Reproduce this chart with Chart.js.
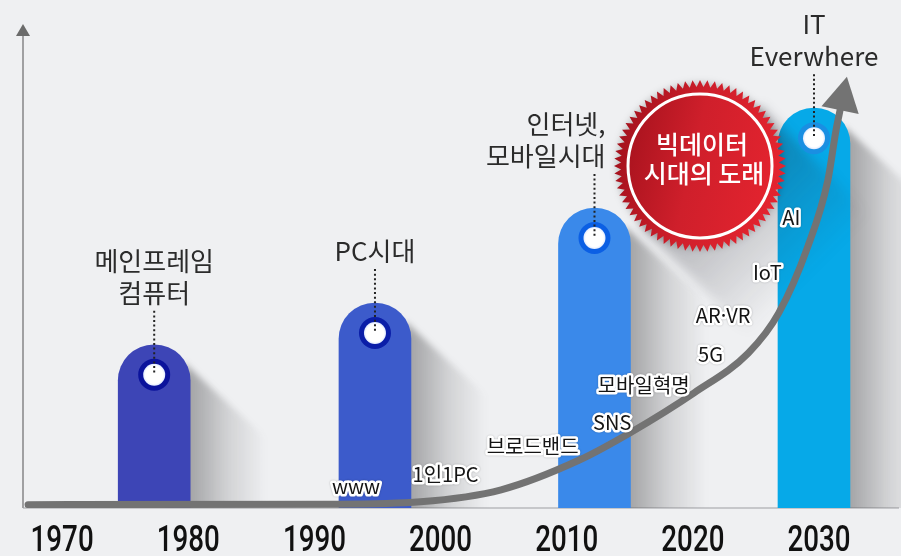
<!DOCTYPE html>
<html lang="ko">
<head>
<meta charset="utf-8">
<title>IT 시대의 변화</title>
<script src="https://cdn.jsdelivr.net/npm/chart.js@4.4.1/dist/chart.umd.min.js"></script>
<style>
  html, body { margin: 0; padding: 0; background: #eff0f2; }
  .chart-wrap { position: relative; width: 901px; height: 556px; }
</style>
</head>
<body>
<div class="chart-wrap"><canvas id="chart"></canvas></div>
<script>
// x axis years
const yearTicks = [1970, 1980, 1990, 2000, 2010, 2020, 2030];

// pillars (one per era)
const eraYears = [1977.3, 1994.8, 2012.2, 2029.6];
const eraValues = [34.0, 42.7, 62.5, 83.3];
const eraLabels = [['메인프레임', '컴퓨터'], ['PC시대'], ['인터넷,', '모바일시대'], ['IT', 'Everwhere']];

// growth curve
const curveYears = [1967.3, 1991.3, 1998.4, 2004.8, 2011.0, 2015.1, 2020.1, 2024.4, 2026.8, 2029.1, 2030.7, 2031.35, 2031.7];
const curveValues = [0.7, 0.8, 1.3, 3.8, 10.0, 15.8, 24.0, 32.3, 40.6, 54.4, 68.3, 78.8, 83.3];

// keywords along the curve
const keywordLabels = ['www', '1인1PC', '브로드밴드', 'SNS', '모바일혁명', '5G', 'AR·VR', 'IoT', 'AI'];
const keywordYears = [1993.3, 2000.4, 2007.3, 2013.6, 2016.1, 2021.4, 2022.4, 2025.9, 2027.8];
const keywordValues = [4.4, 6.9, 12.9, 17.9, 25.6, 31.9, 40.2, 49.0, 60.6];

const badgeLines = ['빅데이터', '시대의 도래'];

// styles
const eraColors = ['#3d45b6', '#3c5bcb', '#3a89ea', '#06a9e8'];
const ringColors = ['#0b139c', '#0a1ea8', '#0b5fe4', '#1a8fe2'];
const eraAlign = ['center', 'center', 'right', 'center'];
const KR = '"Noto Sans CJK KR", "Noto Sans", sans-serif';

const decoPlugin = {
    id: 'deco',
    beforeDatasetsDraw(chart) {
        const { ctx, chartArea: area } = chart;
        ctx.save();

        // axes with arrows
        ctx.lineWidth = 2;
        ctx.strokeStyle = '#c6c7ca';
        ctx.beginPath();
        ctx.moveTo(area.left, area.bottom);
        ctx.lineTo(chart.width - 2, area.bottom);
        ctx.stroke();
        ctx.strokeStyle = '#a0a0a2';
        ctx.beginPath();
        ctx.moveTo(area.left, area.bottom);
        ctx.lineTo(area.left, area.top + 6);
        ctx.stroke();
        ctx.fillStyle = '#6b6b6b';
        ctx.beginPath();
        ctx.moveTo(area.left, area.top - 4);
        ctx.lineTo(area.left - 7, area.top + 8);
        ctx.lineTo(area.left + 7, area.top + 8);
        ctx.closePath();
        ctx.fill();

        // cast shadows right of each pillar
        ctx.beginPath();
        ctx.rect(area.left + 1, 0, chart.width, area.bottom);
        ctx.clip();
        const bars = chart.getDatasetMeta(1).data;
        bars.forEach(bar => {
            const right = bar.x + bar.width / 2;
            const top = bar.y + 18;
            const L = 76;
            const g = ctx.createLinearGradient(right, 0, right + L, 0);
            g.addColorStop(0, 'rgba(70,70,72,0.44)');
            g.addColorStop(0.5, 'rgba(70,70,72,0.17)');
            g.addColorStop(1, 'rgba(70,70,72,0)');
            ctx.filter = 'blur(3px)';
            ctx.fillStyle = g;
            ctx.beginPath();
            ctx.moveTo(right - 6, top);
            ctx.lineTo(right + L, top + L);
            ctx.lineTo(right + L, bar.base + 6);
            ctx.lineTo(right - 6, bar.base + 6);
            ctx.closePath();
            ctx.fill();
        });
        ctx.filter = 'none';
        ctx.restore();
    },
    afterDatasetDraw(chart, args) {
        if (args.index !== 1) return;
        // shadow of the badge
        const { ctx } = chart;
        const cx = 700, cy = 166;
        ctx.save();
        ctx.filter = 'blur(6px)';
        const g = ctx.createLinearGradient(cx, cy, cx + 110, cy + 110);
        g.addColorStop(0, 'rgba(40,40,50,0.35)');
        g.addColorStop(1, 'rgba(40,40,50,0)');
        ctx.fillStyle = g;
        ctx.beginPath();
        ctx.moveTo(cx - 60, cy + 60);
        ctx.lineTo(cx + 60, cy - 60);
        ctx.lineTo(cx + 170, cy + 50);
        ctx.lineTo(cx + 50, cy + 170);
        ctx.closePath();
        ctx.fill();
        ctx.restore();
    },
    afterDatasetsDraw(chart) {
        const { ctx } = chart;
        const xs = chart.scales.x, ys = chart.scales.y;
        ctx.save();

        // arrow head at the end of the curve
        const pts = chart.getDatasetMeta(0).data;
        const p1 = pts[pts.length - 1], p0 = pts[pts.length - 2];
        let dx = p1.x - p0.x, dy = p1.y - p0.y;
        const len = Math.hypot(dx, dy);
        dx /= len; dy /= len;
        const bx = p1.x - dx * 2, by = p1.y - dy * 2;
        ctx.fillStyle = '#737373';
        ctx.beginPath();
        ctx.moveTo(p1.x + dx * 32, p1.y + dy * 32);
        ctx.lineTo(bx - dy * 19, by + dx * 19);
        ctx.lineTo(bx + dy * 19, by - dx * 19);
        ctx.closePath();
        ctx.fill();

        // circles, dotted leaders and era labels
        const bars = chart.getDatasetMeta(1).data;
        bars.forEach((bar, i) => {
            const cxp = bar.x, cyp = bar.y + 30;
            ctx.fillStyle = ringColors[i];
            ctx.beginPath();
            ctx.arc(cxp, cyp, 16, 0, Math.PI * 2);
            ctx.fill();
            const rg = ctx.createRadialGradient(cxp, cyp, 2, cxp, cyp, 11);
            rg.addColorStop(0, '#ffffff');
            rg.addColorStop(0.75, '#ffffff');
            rg.addColorStop(1, '#dfe9ff');
            ctx.fillStyle = rg;
            ctx.beginPath();
            ctx.arc(cxp, cyp, 11, 0, Math.PI * 2);
            ctx.fill();

            const lines = eraLabels[i];
            const lastY = bar.y - 52;
            const startY = lastY + 18;
            ctx.strokeStyle = '#222';
            ctx.lineWidth = 2;
            ctx.setLineDash([2, 2.6]);
            ctx.beginPath();
            ctx.moveTo(cxp, startY);
            ctx.lineTo(cxp, cyp - 1);
            ctx.stroke();
            ctx.setLineDash([]);

            ctx.font = '400 26px ' + KR;
            ctx.fillStyle = '#2b2b2b';
            ctx.textBaseline = 'middle';
            ctx.textAlign = eraAlign[i];
            const tx = eraAlign[i] === 'right' ? cxp + 11 : cxp;
            lines.forEach((t, k) => {
                ctx.fillText(t, tx, lastY - (lines.length - 1 - k) * 32);
            });
        });

        // keyword labels with white halo
        ctx.font = '400 20px ' + KR;
        ctx.textAlign = 'center';
        ctx.textBaseline = 'middle';
        ctx.lineJoin = 'round';
        keywordLabels.forEach((t, i) => {
            const x = xs.getPixelForValue(keywordYears[i]);
            const y = ys.getPixelForValue(keywordValues[i]);
            ctx.shadowColor = 'rgba(0,0,0,0.25)';
            ctx.shadowBlur = 2;
            ctx.strokeStyle = '#ffffff';
            ctx.lineWidth = 5;
            ctx.strokeText(t, x, y);
            ctx.shadowColor = 'transparent';
            ctx.fillStyle = '#141414';
            ctx.fillText(t, x, y);
        });

        // red seal badge
        const cx = 700, cy = 166, rOut = 86, rIn = 79, teeth = 72;
        ctx.beginPath();
        for (let k = 0; k < teeth * 2; k++) {
            const a = k * Math.PI / teeth;
            const r = k % 2 ? rIn : rOut;
            const px = cx + r * Math.cos(a), py = cy + r * Math.sin(a);
            if (k === 0) ctx.moveTo(px, py); else ctx.lineTo(px, py);
        }
        ctx.closePath();
        const bg = ctx.createLinearGradient(cx - rOut, cy - 20, cx + rOut, cy + 20);
        bg.addColorStop(0, '#a3111c');
        bg.addColorStop(0.45, '#cf1f2b');
        bg.addColorStop(1, '#e6242f');
        ctx.fillStyle = bg;
        ctx.shadowColor = 'rgba(0,0,0,0.25)';
        ctx.shadowBlur = 6;
        ctx.fill();
        ctx.shadowColor = 'transparent';
        ctx.strokeStyle = '#ffffff';
        ctx.lineWidth = 3;
        ctx.beginPath();
        ctx.arc(cx, cy, 72, 0, Math.PI * 2);
        ctx.stroke();
        ctx.fillStyle = '#ffffff';
        ctx.font = '500 25px ' + KR;
        ctx.textAlign = 'center';
        ctx.fillText(badgeLines[0], cx + 2, cy - 22);
        ctx.fillText(badgeLines[1], cx + 4, cy + 7);

        ctx.restore();
    },
    afterDraw(chart) {
        // year labels of the x axis, drawn condensed
        const { ctx, chartArea: area } = chart;
        const xs = chart.scales.x;
        ctx.save();
        ctx.font = '500 37px Roboto, "Noto Sans", sans-serif';
        ctx.fillStyle = '#111';
        ctx.textAlign = 'center';
        ctx.textBaseline = 'middle';
        xs.ticks.forEach(t => {
            ctx.save();
            ctx.translate(xs.getPixelForValue(t.value), area.bottom + 34);
            ctx.scale(0.75, 1);
            ctx.fillText(t.label, 0, 0);
            ctx.restore();
        });
        ctx.restore();
    }
};

new Chart(document.getElementById('chart'), {
    type: 'bar',
    data: {
        datasets: [{
            type: 'line',
            data: curveYears.map((x, i) => ({ x, y: curveValues[i] })),
            borderColor: '#737373',
            borderWidth: 7,
            borderCapStyle: 'round',
            pointRadius: 0,
            cubicInterpolationMode: 'monotone',
            fill: false,
            order: 0
        }, {
            data: eraYears.map((x, i) => ({ x, y: eraValues[i] })),
            backgroundColor: eraColors,
            barThickness: 72,
            borderRadius: 36,
            borderSkipped: 'start',
            order: 1
        }]
    },
    options: {
        responsive: true,
        maintainAspectRatio: false,
        animation: false,
        layout: { padding: { left: 23, right: 5, top: 28, bottom: 0 } },
        plugins: {
            legend: { display: false },
            tooltip: { enabled: false }
        },
        scales: {
            x: {
                type: 'linear',
                min: 1966.9,
                max: 2036.1,
                offset: false,
                afterBuildTicks: (scale) => {
                    scale.ticks = yearTicks.map(v => ({ value: v }));
                },
                grid: { display: false, drawTicks: false },
                border: { display: false },
                ticks: {
                    padding: 6,
                    maxRotation: 0,
                    autoSkip: false,
                    color: 'transparent',
                    font: { size: 36, lineHeight: 1 },
                    callback: (v) => String(v)
                }
            },
            y: {
                display: false,
                min: 0,
                max: 100
            }
        }
    },
    plugins: [decoPlugin]
});
</script>
</body>
</html>
